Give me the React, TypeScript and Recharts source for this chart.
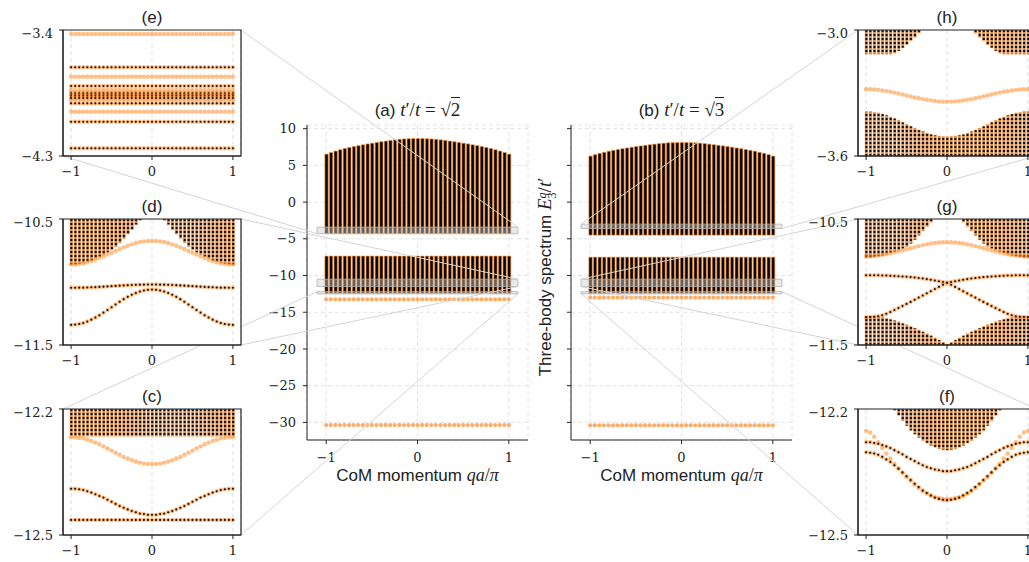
import React from "react";
import { ComposedChart, Bar, Scatter, XAxis, YAxis, CartesianGrid, ReferenceArea } from "recharts";

// CoM momentum grid qa/pi
const Q = [-1, -0.95, -0.9, -0.85, -0.8, -0.75, -0.7, -0.65, -0.6, -0.55, -0.5, -0.45, -0.4, -0.35, -0.3, -0.25, -0.2, -0.15, -0.1, -0.05, 0,
  0.05, 0.1, 0.15, 0.2, 0.25, 0.3, 0.35, 0.4, 0.45, 0.5, 0.55, 0.6, 0.65, 0.7, 0.75, 0.8, 0.85, 0.9, 0.95, 1];

// ---- (a) t'/t = sqrt2 : full spectrum
const A_UPPER_TOP = [6.53, 6.75, 6.95, 7.13, 7.3, 7.44, 7.56, 7.69, 7.8, 7.92, 8.02, 8.12, 8.22, 8.31, 8.4, 8.48, 8.55, 8.6, 8.63, 8.65, 8.66,
  8.65, 8.63, 8.6, 8.55, 8.48, 8.4, 8.31, 8.22, 8.12, 8.02, 7.92, 7.8, 7.69, 7.56, 7.44, 7.3, 7.13, 6.95, 6.75, 6.53];
const A_UPPER_BOTTOM = -4.3;
const A_LOWER_BAND = [-12.45, -7.35];
const A_ORANGE_LEVELS = [-13.24, -30.37];
const A_BOXES = [[-4.3, -3.4], [-11.5, -10.5], [-12.5, -12.2]];

// ---- (b) t'/t = sqrt3 : full spectrum
const B_UPPER_TOP = [6.26, 6.46, 6.64, 6.78, 6.93, 7.05, 7.16, 7.27, 7.37, 7.47, 7.56, 7.65, 7.73, 7.81, 7.89, 7.96, 8.02, 8.07, 8.09, 8.11, 8.12,
  8.11, 8.09, 8.07, 8.02, 7.96, 7.89, 7.81, 7.73, 7.65, 7.56, 7.47, 7.37, 7.27, 7.16, 7.05, 6.93, 6.78, 6.64, 6.46, 6.26];
const B_UPPER_BOTTOM = -4.5;
const B_LOWER_BAND = [-12.45, -7.5];
const B_ORANGE_LEVELS = [-13.0, -30.4];
const B_BOXES = [[-3.6, -3.0], [-11.5, -10.5], [-12.5, -12.2]];

// ---- (e) zoom of (a), flat levels
const E_ORANGE = [-3.429, -3.734, -3.829, -3.9, -3.984];
const E_BLACK = [-3.666, -3.8, -3.848, -3.859, -3.871, -3.886, -3.924, -4.055, -4.245];

// ---- (d) zoom of (a)
const D_BAND_LOW = [-10.862, -10.86, -10.855, -10.85, -10.84, -10.83, -10.815, -10.8, -10.785, -10.765, -10.745, -10.72, -10.69, -10.655, -10.62, -10.585, -10.545, -10.51,
  null, null, null, null, null,
  -10.51, -10.545, -10.585, -10.62, -10.655, -10.69, -10.72, -10.745, -10.765, -10.785, -10.8, -10.815, -10.83, -10.84, -10.85, -10.855, -10.86, -10.862];
const D_ORANGE = [-10.862, -10.861, -10.857, -10.852, -10.844, -10.834, -10.823, -10.81, -10.797, -10.782, -10.768, -10.753, -10.738, -10.725, -10.712, -10.701, -10.691, -10.683, -10.678, -10.674, -10.673,
  -10.674, -10.678, -10.683, -10.691, -10.701, -10.712, -10.725, -10.738, -10.753, -10.768, -10.782, -10.797, -10.81, -10.823, -10.834, -10.844, -10.852, -10.857, -10.861, -10.862];
const D_FLAT = [-11.046, -11.046, -11.045, -11.045, -11.044, -11.042, -11.041, -11.039, -11.037, -11.035, -11.033, -11.031, -11.029, -11.027, -11.025, -11.024, -11.022, -11.021, -11.021, -11.02, -11.02,
  -11.02, -11.021, -11.021, -11.022, -11.024, -11.025, -11.027, -11.029, -11.031, -11.033, -11.035, -11.037, -11.039, -11.041, -11.042, -11.044, -11.045, -11.045, -11.046, -11.046];
const D_BELL = [-11.34, -11.338, -11.333, -11.325, -11.313, -11.299, -11.282, -11.264, -11.243, -11.222, -11.2, -11.178, -11.157, -11.136, -11.118, -11.101, -11.087, -11.075, -11.067, -11.062, -11.06,
  -11.062, -11.067, -11.075, -11.087, -11.101, -11.118, -11.136, -11.157, -11.178, -11.2, -11.222, -11.243, -11.264, -11.282, -11.299, -11.313, -11.325, -11.333, -11.338, -11.34];

// ---- (c) zoom of (a)
const C_BAND = [-12.265, -12.2];
const C_ORANGE = [-12.267, -12.267, -12.269, -12.27, -12.273, -12.276, -12.28, -12.284, -12.289, -12.294, -12.299, -12.304, -12.309, -12.314, -12.318, -12.322, -12.325, -12.328, -12.33, -12.331, -12.331,
  -12.331, -12.33, -12.328, -12.325, -12.322, -12.318, -12.314, -12.309, -12.304, -12.299, -12.294, -12.289, -12.284, -12.28, -12.276, -12.273, -12.27, -12.269, -12.267, -12.267];
const C_BLACK = [-12.39, -12.39, -12.391, -12.393, -12.396, -12.399, -12.403, -12.407, -12.411, -12.416, -12.421, -12.426, -12.431, -12.435, -12.439, -12.443, -12.446, -12.449, -12.45, -12.452, -12.452,
  -12.452, -12.45, -12.449, -12.446, -12.443, -12.439, -12.435, -12.431, -12.426, -12.421, -12.416, -12.411, -12.407, -12.403, -12.399, -12.396, -12.393, -12.391, -12.39, -12.39];
const C_BLACK_LEVEL = [-12.464];

// ---- (h) zoom of (b)
const H_TOP_LOW = [-3.115, -3.115, -3.115, -3.115, -3.115, -3.115, -3.115, -3.11, -3.1, -3.085, -3.07, -3.05, -3.035, -3.015,
  null, null, null, null, null, null, null, null, null, null, null, null, null,
  -3.015, -3.035, -3.05, -3.07, -3.085, -3.1, -3.11, -3.115, -3.115, -3.115, -3.115, -3.115, -3.115, -3.115];
const H_ORANGE = [-3.282, -3.282, -3.283, -3.285, -3.288, -3.291, -3.294, -3.298, -3.302, -3.307, -3.312, -3.316, -3.321, -3.325, -3.329, -3.332, -3.335, -3.338, -3.34, -3.341, -3.341,
  -3.341, -3.34, -3.338, -3.335, -3.332, -3.329, -3.325, -3.321, -3.316, -3.312, -3.307, -3.302, -3.298, -3.294, -3.291, -3.288, -3.285, -3.283, -3.282, -3.282];
const H_BOT_HIGH = [-3.389, -3.389, -3.392, -3.395, -3.4, -3.406, -3.414, -3.421, -3.43, -3.439, -3.449, -3.458, -3.467, -3.476, -3.483, -3.491, -3.497, -3.501, -3.505, -3.507, -3.508,
  -3.507, -3.505, -3.501, -3.497, -3.491, -3.483, -3.476, -3.467, -3.458, -3.449, -3.439, -3.43, -3.421, -3.414, -3.406, -3.4, -3.395, -3.392, -3.389, -3.389];

// ---- (g) zoom of (b)
const G_TOP_LOW = [-10.81, -10.808, -10.8, -10.795, -10.79, -10.78, -10.77, -10.76, -10.75, -10.735, -10.72, -10.695, -10.665, -10.63, -10.595, -10.56, -10.525,
  null, null, null, null, null, null, null,
  -10.525, -10.56, -10.595, -10.63, -10.665, -10.695, -10.72, -10.735, -10.75, -10.76, -10.77, -10.78, -10.79, -10.795, -10.8, -10.808, -10.81];
const G_ORANGE = [-10.797, -10.796, -10.794, -10.791, -10.786, -10.78, -10.774, -10.766, -10.758, -10.749, -10.741, -10.732, -10.723, -10.715, -10.707, -10.701, -10.695, -10.69, -10.687, -10.685, -10.684,
  -10.685, -10.687, -10.69, -10.695, -10.701, -10.707, -10.715, -10.723, -10.732, -10.741, -10.749, -10.758, -10.766, -10.774, -10.78, -10.786, -10.791, -10.794, -10.796, -10.797];
const G_CROSS_A = [-10.946, -10.946, -10.947, -10.947, -10.948, -10.949, -10.95, -10.952, -10.954, -10.956, -10.958, -10.961, -10.964, -10.968, -10.972, -10.977, -10.982, -10.988, -10.994, -11.0, -11.006,
  -11.022, -11.039, -11.056, -11.073, -11.09, -11.107, -11.124, -11.141, -11.158, -11.174, -11.19, -11.206, -11.222, -11.238, -11.252, -11.264, -11.272, -11.276, -11.278, -11.28];
const G_CROSS_B = [-11.28, -11.278, -11.276, -11.272, -11.264, -11.252, -11.238, -11.222, -11.206, -11.19, -11.174, -11.158, -11.141, -11.124, -11.107, -11.09, -11.073, -11.056, -11.039, -11.022, -11.006,
  -11.0, -10.994, -10.988, -10.982, -10.977, -10.972, -10.968, -10.964, -10.961, -10.958, -10.956, -10.954, -10.952, -10.95, -10.949, -10.948, -10.947, -10.947, -10.946, -10.946];
const G_BOT_HIGH = [-11.27, -11.27, -11.272, -11.275, -11.28, -11.288, -11.296, -11.305, -11.316, -11.328, -11.34, -11.353, -11.366, -11.38, -11.395, -11.41, -11.426, -11.443, -11.46, -11.478, -11.495,
  -11.478, -11.46, -11.443, -11.426, -11.41, -11.395, -11.38, -11.366, -11.353, -11.34, -11.328, -11.316, -11.305, -11.296, -11.288, -11.28, -11.275, -11.272, -11.27, -11.27];

// ---- (f) zoom of (b)
const F_TOP_LOW = [null, null, null, null, null, null, null,
  -12.203, -12.215, -12.228, -12.24, -12.251, -12.26, -12.268, -12.275, -12.281, -12.287, -12.291, -12.295, -12.297, -12.298,
  -12.297, -12.295, -12.291, -12.287, -12.281, -12.275, -12.268, -12.26, -12.251, -12.24, -12.228, -12.215, -12.203,
  null, null, null, null, null, null, null];
const F_ORANGE = [-12.252, -12.256, -12.266, -12.279, -12.293, -12.306, -12.318, -12.33, -12.341, -12.352, -12.362, -12.371, -12.38, -12.388, -12.395, -12.401, -12.406, -12.41, -12.412, -12.414, -12.414,
  -12.414, -12.412, -12.41, -12.406, -12.401, -12.395, -12.388, -12.38, -12.371, -12.362, -12.352, -12.341, -12.33, -12.318, -12.306, -12.293, -12.279, -12.266, -12.256, -12.252];
const F_BLACK1 = [-12.279, -12.279, -12.281, -12.283, -12.286, -12.289, -12.293, -12.298, -12.303, -12.308, -12.314, -12.319, -12.324, -12.329, -12.334, -12.338, -12.341, -12.344, -12.346, -12.348, -12.348,
  -12.348, -12.346, -12.344, -12.341, -12.338, -12.334, -12.329, -12.324, -12.319, -12.314, -12.308, -12.303, -12.298, -12.293, -12.289, -12.286, -12.283, -12.281, -12.279, -12.279];
const F_BLACK2 = [-12.303, -12.304, -12.306, -12.309, -12.314, -12.32, -12.326, -12.334, -12.342, -12.351, -12.36, -12.369, -12.378, -12.386, -12.394, -12.4, -12.406, -12.411, -12.414, -12.416, -12.417,
  -12.416, -12.414, -12.411, -12.406, -12.4, -12.394, -12.386, -12.378, -12.369, -12.36, -12.351, -12.342, -12.334, -12.326, -12.32, -12.314, -12.309, -12.306, -12.304, -12.303];

// ---- layout
const ORANGE = "#ff8a25";
const SERIF = "'DejaVu Serif', serif";
const SANS = "'Liberation Sans', Arial, sans-serif";
const MATH = "'Liberation Serif', 'Times New Roman', serif";
const TICK = { fontFamily: SERIF, fontSize: 13, fill: "#222" };

const MAIN_XD = [-1.21, 1.21];
const MAIN_YD = [-32.4, 10.5];
const MAIN_TICKS = [-30, -25, -20, -15, -10, -5, 0, 5, 10];
const MAIN = { top: 125, w: 221, h: 315, yw: 50 };
const A_LEFT = 307;
const B_LEFT = 571;

const INSET_XD = [-1.1, 1.1];
const IN = { w: 178, h: 126, yw: 60 };
const LEFT_COL = 63;
const RIGHT_COL = 858;
const ROW_TOP = [30, 219, 409];

const minus = (s: string) => s.replace("-", "\u2212");
const fmtInt = (v: number) => minus(String(v));
const fmt1 = (v: number) => minus(v.toFixed(1));

const toPts = (vals: number[]) => Q.map((q, i) => ({ q, e: vals[i] }));
const levelPts = (levels: number[]) => levels.flatMap((e) => Q.map((q) => ({ q, e })));
const rng = (lo: number | null, hi: number | null) => (lo == null || hi == null ? null : [lo, hi]);

const OrangeDot = (p: any) => <circle cx={p.cx} cy={p.cy} r={2.2} fill={ORANGE} fillOpacity={0.55} />;
const BlackDot = (p: any) => (
  <g>
    <circle cx={p.cx} cy={p.cy} r={2.2} fill={ORANGE} fillOpacity={0.55} />
    <circle cx={p.cx} cy={p.cy} r={1.05} fill="#111" />
  </g>
);
const MainDot = (p: any) => <circle cx={p.cx} cy={p.cy} r={2.1} fill={ORANGE} fillOpacity={0.7} />;

function mainPx(left: number, q: number, e: number) {
  return [
    left + ((q - MAIN_XD[0]) / (MAIN_XD[1] - MAIN_XD[0])) * MAIN.w,
    MAIN.top + ((MAIN_YD[1] - e) / (MAIN_YD[1] - MAIN_YD[0])) * MAIN.h,
  ];
}

type MainProps = { left: number; title: React.ReactNode; top: number[]; upperBottom: number; lower: number[]; orange: number[]; boxes: number[][]; labels: boolean };

function MainPanel({ left, title, top, upperBottom, lower, orange, boxes, labels }: MainProps) {
  const rows = Q.map((q, i) => ({ q, up: [upperBottom, top[i]], low: lower }));
  return (
    <>
      <div style={{ position: "absolute", left, top: 99, width: MAIN.w, textAlign: "center", fontFamily: SANS, fontSize: 17, lineHeight: "22px", zIndex: 1 }}>
        {title}
      </div>
      <div style={{ position: "absolute", left: left - MAIN.yw, top: MAIN.top - 5, zIndex: 1 }}>
        <ComposedChart width={MAIN.yw + MAIN.w + 5} height={5 + MAIN.h + 30} data={rows} margin={{ top: 5, right: 5, bottom: 0, left: 0 }}>
          <CartesianGrid strokeDasharray="4 3" stroke="#e2e2e2" />
          <XAxis dataKey="q" type="number" domain={MAIN_XD} ticks={[-1, 0, 1]} allowDataOverflow height={30} tickSize={4} tickMargin={9}
            tick={TICK} tickFormatter={fmtInt} stroke="#222" />
          <XAxis xAxisId="x2" dataKey="q" type="number" domain={MAIN_XD} allowDataOverflow hide />
          <YAxis dataKey="e" type="number" domain={MAIN_YD} ticks={MAIN_TICKS} allowDataOverflow width={MAIN.yw} tickSize={4} tickMargin={7}
            tick={TICK} tickFormatter={labels ? fmtInt : () => ""} stroke="#222" />
          <Bar dataKey="up" barSize={3.3} fill="#050505" stroke={ORANGE} strokeWidth={0.7} isAnimationActive={false} />
          <Bar xAxisId="x2" dataKey="low" barSize={3.3} fill="#050505" stroke={ORANGE} strokeWidth={0.7} isAnimationActive={false} />
          <Scatter data={levelPts(orange)} shape={MainDot} isAnimationActive={false} />
          {boxes.map(([y1, y2], i) => (
            <ReferenceArea key={i} x1={-1.1} x2={1.1} y1={y1} y2={y2} fill="#cfcfcf" fillOpacity={0.45} stroke="#b0b0b0" strokeOpacity={0.8}
              {...({ zIndex: 2000 } as any)} />
          ))}
        </ComposedChart>
      </div>
      <div style={{ position: "absolute", left, top: 464, width: MAIN.w, textAlign: "center", fontFamily: SANS, fontSize: 17, lineHeight: "22px", zIndex: 1 }}>
        CoM momentum <i style={{ fontFamily: MATH, fontSize: 18 }}>qa</i>
        <span style={{ fontFamily: MATH, fontSize: 18 }}>/</span>
        <i style={{ fontFamily: MATH, fontSize: 18 }}>π</i>
      </div>
    </>
  );
}

type InsetProps = {
  left: number; top: number; lo: number; hi: number; title: string;
  bands: ((number[] | null)[])[]; orange: { q: number; e: number }[]; black: { q: number; e: number }[];
};

function Inset({ left, top, lo, hi, title, bands, orange, black }: InsetProps) {
  const rows = Q.map((q, i) => ({ q, b0: bands[0] ? bands[0][i] : null, b1: bands[1] ? bands[1][i] : null }));
  return (
    <>
      <div style={{ position: "absolute", left, top: top - 23, width: IN.w, textAlign: "center", fontFamily: SANS, fontSize: 17, lineHeight: "22px", zIndex: 3 }}>
        {title}
      </div>
      <div style={{ position: "absolute", left: left - IN.yw, top: top - 5, zIndex: 3 }}>
        <ComposedChart width={IN.yw + IN.w + 5} height={5 + IN.h + 30} data={rows} margin={{ top: 5, right: 5, bottom: 0, left: 0 }}>
          <CartesianGrid horizontal={false} strokeDasharray="4 3" stroke="#e0e0e0" fill="#fff" fillOpacity={1} />
          <XAxis dataKey="q" type="number" domain={INSET_XD} ticks={[-1, 0, 1]} allowDataOverflow height={30} tickSize={4} tickMargin={7}
            tick={TICK} tickFormatter={fmtInt} stroke="#222" />
          <XAxis xAxisId="x2" dataKey="q" type="number" domain={INSET_XD} allowDataOverflow hide />
          <YAxis dataKey="e" type="number" domain={[lo, hi]} ticks={[lo, hi]} allowDataOverflow width={IN.yw} tickSize={4} tickMargin={6}
            tick={TICK} tickFormatter={fmt1} stroke="#222" />
          {bands[0] && <Bar dataKey="b0" barSize={2.6} fill="url(#dotrows)" stroke={ORANGE} strokeOpacity={0.55} strokeWidth={0.8} isAnimationActive={false} />}
          {bands[1] && <Bar xAxisId="x2" dataKey="b1" barSize={2.6} fill="url(#dotrows)" stroke={ORANGE} strokeOpacity={0.55} strokeWidth={0.8} isAnimationActive={false} />}
          <Scatter data={orange} shape={OrangeDot} isAnimationActive={false} />
          <Scatter data={black} shape={BlackDot} isAnimationActive={false} />
          <ReferenceArea x1={INSET_XD[0]} x2={INSET_XD[1]} y1={lo} y2={hi} fill="none" stroke="#222" strokeWidth={1.2} ifOverflow="visible"
            {...({ zIndex: 2000 } as any)} />
        </ComposedChart>
      </div>
    </>
  );
}

function insetPx(left: number, top: number, corner: string) {
  const x = corner.includes("R") ? left + IN.w : left;
  const y = corner.includes("B") ? top + IN.h : top;
  return [x, y];
}

// connector lines: inset corner -> zoom box corner in main panel
const CONNECTORS: [number, number, string, number, number, number][] = [
  [LEFT_COL, ROW_TOP[0], "TR", A_LEFT, 1.1, -3.4],
  [LEFT_COL, ROW_TOP[0], "BL", A_LEFT, -1.1, -4.3],
  [LEFT_COL, ROW_TOP[1], "TR", A_LEFT, 1.1, -10.5],
  [LEFT_COL, ROW_TOP[1], "BR", A_LEFT, 1.1, -11.5],
  [LEFT_COL, ROW_TOP[2], "TL", A_LEFT, -1.1, -12.2],
  [LEFT_COL, ROW_TOP[2], "BR", A_LEFT, 1.1, -12.5],
  [RIGHT_COL, ROW_TOP[0], "TL", B_LEFT, -1.1, -3.0],
  [RIGHT_COL, ROW_TOP[0], "BR", B_LEFT, 1.1, -3.6],
  [RIGHT_COL, ROW_TOP[1], "TL", B_LEFT, -1.1, -10.5],
  [RIGHT_COL, ROW_TOP[1], "BL", B_LEFT, -1.1, -11.5],
  [RIGHT_COL, ROW_TOP[2], "TR", B_LEFT, 1.1, -12.2],
  [RIGHT_COL, ROW_TOP[2], "BL", B_LEFT, -1.1, -12.5],
];

const Sqrt = ({ n }: { n: string }) => (
  <span style={{ fontFamily: MATH }}>
    √<span style={{ borderTop: "1px solid #222", paddingTop: 1 }}>{n}</span>
  </span>
);

const Ratio = ({ n }: { n: string }) => (
  <span style={{ fontFamily: MATH, fontSize: 19 }}>
    <i>t</i>′/<i>t</i> = <Sqrt n={n} />
  </span>
);

export default function App() {
  return (
    <div style={{ position: "absolute", left: 0, top: 0, width: 1029, height: 562, overflow: "hidden", background: "#fff", color: "#222" }}>
      <svg width={0} height={0} style={{ position: "absolute" }}>
        <defs>
          <pattern id="dotrows" patternUnits="userSpaceOnUse" width={200} height={4}>
            <rect x={0} y={0} width={200} height={4} fill="#f7ad70" />
            <rect x={0} y={0.8} width={200} height={2.4} fill="#0a0a0a" />
          </pattern>
        </defs>
      </svg>

      <MainPanel left={A_LEFT} title={<>(a) <Ratio n="2" /></>} top={A_UPPER_TOP} upperBottom={A_UPPER_BOTTOM} lower={A_LOWER_BAND}
        orange={A_ORANGE_LEVELS} boxes={A_BOXES} labels />
      <MainPanel left={B_LEFT} title={<>(b) <Ratio n="3" /></>} top={B_UPPER_TOP} upperBottom={B_UPPER_BOTTOM} lower={B_LOWER_BAND}
        orange={B_ORANGE_LEVELS} boxes={B_BOXES} labels={false} />

      <div style={{ position: "absolute", left: 545, top: 277, transform: "translate(-50%, -50%) rotate(-90deg)", whiteSpace: "nowrap",
        fontFamily: SANS, fontSize: 17, zIndex: 1 }}>
        Three-body spectrum{" "}
        <i style={{ fontFamily: MATH, fontSize: 19 }}>E</i>
        <span style={{ display: "inline-flex", flexDirection: "column", fontFamily: MATH, fontSize: 12, lineHeight: "10px", verticalAlign: "middle" }}>
          <i>q</i>
          <span>3</span>
        </span>
        <span style={{ fontFamily: MATH, fontSize: 19 }}>/<i>t</i>′</span>
      </div>

      <svg width={1029} height={562} style={{ position: "absolute", left: 0, top: 0, zIndex: 2, pointerEvents: "none" }}>
        {CONNECTORS.map(([il, it, corner, ml, q, e], i) => {
          const [x1, y1] = insetPx(il, it, corner);
          const [x2, y2] = mainPx(ml, q, e);
          return <line key={i} x1={x1} y1={y1} x2={x2} y2={y2} stroke="#d4d4d4" strokeWidth={1} />;
        })}
      </svg>

      <Inset left={LEFT_COL} top={ROW_TOP[0]} lo={-4.3} hi={-3.4} title="(e)" bands={[]}
        orange={levelPts(E_ORANGE)} black={levelPts(E_BLACK)} />
      <Inset left={LEFT_COL} top={ROW_TOP[1]} lo={-11.5} hi={-10.5} title="(d)"
        bands={[D_BAND_LOW.map((v) => rng(v, -10.5))]}
        orange={toPts(D_ORANGE)} black={[...toPts(D_FLAT), ...toPts(D_BELL)]} />
      <Inset left={LEFT_COL} top={ROW_TOP[2]} lo={-12.5} hi={-12.2} title="(c)"
        bands={[Q.map(() => C_BAND)]}
        orange={toPts(C_ORANGE)} black={[...toPts(C_BLACK), ...levelPts(C_BLACK_LEVEL)]} />

      <Inset left={RIGHT_COL} top={ROW_TOP[0]} lo={-3.6} hi={-3.0} title="(h)"
        bands={[H_TOP_LOW.map((v) => rng(v, -3.0)), H_BOT_HIGH.map((v) => rng(-3.6, v))]}
        orange={toPts(H_ORANGE)} black={[]} />
      <Inset left={RIGHT_COL} top={ROW_TOP[1]} lo={-11.5} hi={-10.5} title="(g)"
        bands={[G_TOP_LOW.map((v) => rng(v, -10.5)), G_BOT_HIGH.map((v) => rng(-11.5, v))]}
        orange={toPts(G_ORANGE)} black={[...toPts(G_CROSS_A), ...toPts(G_CROSS_B)]} />
      <Inset left={RIGHT_COL} top={ROW_TOP[2]} lo={-12.5} hi={-12.2} title="(f)"
        bands={[F_TOP_LOW.map((v) => rng(v, -12.2))]}
        orange={toPts(F_ORANGE)} black={[...toPts(F_BLACK1), ...toPts(F_BLACK2)]} />
    </div>
  );
}
